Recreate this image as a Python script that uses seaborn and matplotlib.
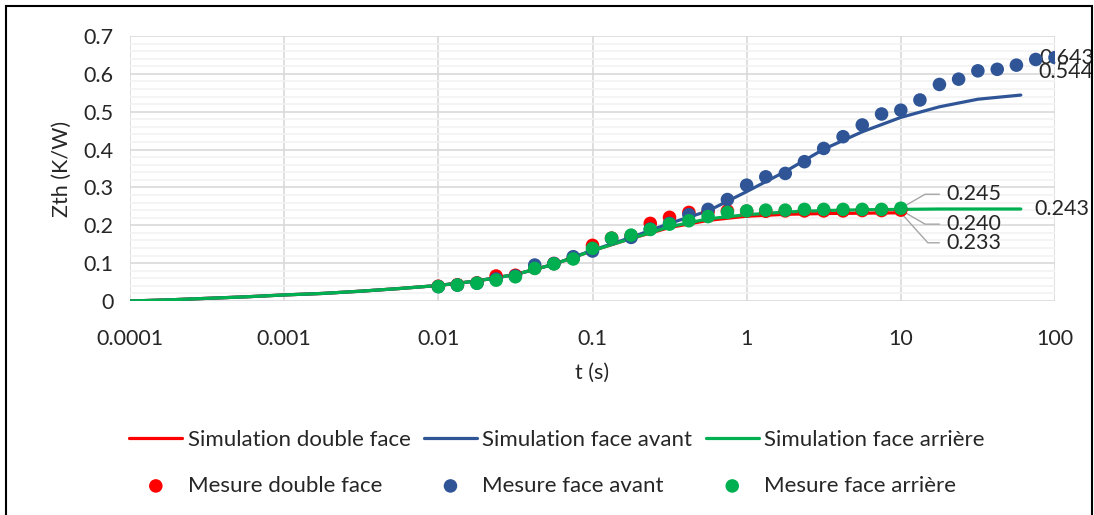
import matplotlib
matplotlib.use("Agg")
import matplotlib.pyplot as plt
import matplotlib.patches as patches
from matplotlib.ticker import MultipleLocator, NullLocator
import seaborn as sns

# === Data ===
t_sim = [0.0001, 0.000178, 0.000316, 0.000562, 0.001, 0.00178, 0.00316, 0.00562,
         0.01, 0.0178, 0.0316, 0.0562, 0.1, 0.178, 0.316, 0.562, 1, 1.78, 3.16,
         5.62, 10, 17.8, 31.6, 60]
sim_double = [0.0, 0.003, 0.007, 0.011, 0.016, 0.020, 0.026, 0.033, 0.041, 0.053,
              0.070, 0.097, 0.133, 0.165, 0.194, 0.213, 0.224, 0.229, 0.231, 0.232,
              0.233]
sim_avant = [0.0, 0.003, 0.007, 0.011, 0.016, 0.020, 0.026, 0.033, 0.041, 0.053,
             0.070, 0.097, 0.134, 0.168, 0.205, 0.238, 0.289, 0.342, 0.401, 0.447,
             0.485, 0.513, 0.533, 0.544]
sim_arriere = [0.0, 0.003, 0.007, 0.011, 0.016, 0.020, 0.026, 0.033, 0.041, 0.053,
               0.070, 0.097, 0.133, 0.165, 0.196, 0.217, 0.228, 0.235, 0.239, 0.241,
               0.242, 0.243, 0.243, 0.243]

t_mes = [0.01, 0.0133, 0.0178, 0.0237, 0.0316, 0.0422, 0.0562, 0.075, 0.1, 0.133,
         0.178, 0.237, 0.316, 0.422, 0.562, 0.75, 1, 1.33, 1.78, 2.37, 3.16, 4.22,
         5.62, 7.5, 10, 13.3, 17.8, 23.7, 31.6, 42.2, 56.2, 75, 100]
mes_double = [0.039, 0.043, 0.048, 0.066, 0.068, 0.087, 0.099, 0.113, 0.147, 0.166,
              0.172, 0.205, 0.221, 0.234, 0.236, 0.238, 0.237, 0.237, 0.238, 0.238,
              0.238, 0.238, 0.239, 0.239, 0.240]
mes_avant = [0.038, 0.042, 0.047, 0.058, 0.066, 0.095, 0.099, 0.117, 0.132, 0.165,
             0.168, 0.190, 0.205, 0.228, 0.242, 0.268, 0.306, 0.328, 0.337, 0.368,
             0.403, 0.434, 0.465, 0.494, 0.504, 0.531, 0.572, 0.586, 0.608, 0.612,
             0.623, 0.638, 0.643]
mes_arriere = [0.038, 0.042, 0.047, 0.055, 0.064, 0.086, 0.098, 0.111, 0.139, 0.166,
               0.174, 0.189, 0.203, 0.212, 0.223, 0.234, 0.238, 0.240, 0.240, 0.242,
               0.242, 0.242, 0.242, 0.242, 0.245]

x_ticks = [0.0001, 0.001, 0.01, 0.1, 1, 10, 100]
x_labels = ["0.0001", "0.001", "0.01", "0.1", "1", "10", "100"]
y_ticks = [0, 0.1, 0.2, 0.3, 0.4, 0.5, 0.6, 0.7]
y_labels = ["0", "0.1", "0.2", "0.3", "0.4", "0.5", "0.6", "0.7"]

RED, BLUE, GREEN = "#FF0000", "#2F5597", "#00B050"

sns.set_style("white")
plt.rcParams["font.family"] = ["Lato", "DejaVu Sans"]

fig = plt.figure(figsize=(10.94, 5.15), dpi=100)
ax = fig.add_axes([130 / 1094, 1 - 301 / 515, (1055 - 130) / 1094, (301 - 36) / 515])

# simulations (lines)
sns.lineplot(x=t_sim[:len(sim_double)], y=sim_double, ax=ax, color=RED, lw=2.3,
             label="Simulation double face", zorder=3)
sns.lineplot(x=t_sim, y=sim_avant, ax=ax, color=BLUE, lw=2.3,
             label="Simulation face avant", zorder=3)
sns.lineplot(x=t_sim, y=sim_arriere, ax=ax, color=GREEN, lw=2.3,
             label="Simulation face arrière", zorder=3)

# mesures (points)
sns.scatterplot(x=t_mes[:len(mes_double)], y=mes_double, ax=ax, color=RED, s=95,
                edgecolor="none", label="Mesure double face", zorder=4)
sns.scatterplot(x=t_mes, y=mes_avant, ax=ax, color=BLUE, s=95,
                edgecolor="none", label="Mesure face avant", zorder=4)
sns.scatterplot(x=t_mes[:len(mes_arriere)], y=mes_arriere, ax=ax, color=GREEN, s=95,
                edgecolor="none", label="Mesure face arrière", zorder=4)

ax.set_xscale("log")
ax.set_xlim(0.0001, 100)
ax.set_ylim(0, 0.7)
ax.set_xticks(x_ticks)
ax.set_xticklabels(x_labels)
ax.xaxis.set_minor_locator(NullLocator())
ax.set_yticks(y_ticks)
ax.set_yticklabels(y_labels)
ax.yaxis.set_minor_locator(MultipleLocator(0.02))
ax.grid(which="major", color="#D9D9D9", lw=1.2)
ax.grid(which="minor", axis="y", color="#F2F2F2", lw=1.2)
ax.set_axisbelow(True)
for s in ax.spines.values():
    s.set_visible(False)
ax.tick_params(which="both", length=0, labelsize=15.5, pad=12)
ax.tick_params(axis="x", pad=20)
ax.set_xlabel("t (s)", fontsize=15.5, labelpad=10)
ax.set_ylabel("Zth (K/W)", fontsize=15.5, labelpad=8)

# data labels
lbl = dict(fontsize=15.5, ha="left", va="center", textcoords="offset pixels")
lead = dict(arrowstyle="-", color="#A6A6A6", lw=1, relpos=(0, 0.5),
            shrinkA=3, shrinkB=3)
ax.annotate("0.245", xy=(10, mes_arriere[-1]), xytext=(46, 14),
            arrowprops=dict(lead, connectionstyle="angle,angleA=0,angleB=30,rad=0"), **lbl)
ax.annotate("0.240", xy=(10, mes_double[-1]), xytext=(46, -14),
            arrowprops=dict(lead, connectionstyle="angle,angleA=0,angleB=-30,rad=0"), **lbl)
ax.annotate("0.233", xy=(10, sim_double[-1]), xytext=(46, -30),
            arrowprops=dict(lead, connectionstyle="angle,angleA=0,angleB=-48,rad=0"), **lbl)
ax.annotate("0.243", xy=(t_sim[-1], sim_arriere[-1]), xytext=(14, 0), **lbl)
ax.annotate("0.643", xy=(t_mes[-1], mes_avant[-1]), xytext=(-16, 0), **lbl)
ax.annotate("0.544", xy=(t_sim[-1], sim_avant[-1]), xytext=(18, 23), **lbl)

# legend below the plot, 2 rows x 3 columns
h, l = ax.get_legend_handles_labels()
ax.get_legend().remove()
order = [0, 3, 1, 4, 2, 5]
fig.legend([h[i] for i in order], [l[i] for i in order], ncol=3,
           loc="center", bbox_to_anchor=(0.509, 0.101), frameon=False,
           fontsize=16, labelspacing=1.15, handlelength=2.4, handletextpad=0.23,
           columnspacing=0.6)

# chart border
fig.patches.append(patches.Rectangle((6 / 1094, -0.02), 1086 / 1094, 1 - 6 / 515 + 0.02,
                                     transform=fig.transFigure, fill=False,
                                     edgecolor="black", lw=1.5))

fig.savefig("out.png", dpi=100)
